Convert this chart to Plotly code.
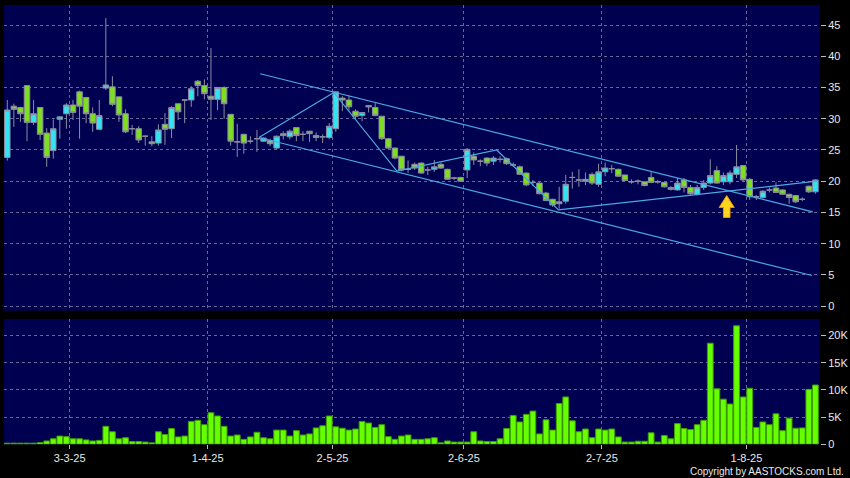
import plotly.graph_objects as go

# ---------------- data ----------------
OPEN = [23.8, 32.0, 31.8, 35.3, 29.4, 31.8, 27.7, 24.9, 29.9, 30.8,
        32.2, 34.3, 33.4, 30.8, 28.3, 34.9, 35.1, 33.5, 30.8, 28.4,
        28.4, 27.2, 26.3, 26.1, 29.1, 28.4, 32.4, 33.0, 33.0, 36.0,
        35.3, 33.6, 33.1, 35.0, 30.7, 26.3, 27.5, 26.4, 26.8, 26.4,
        26.5, 25.3, 27.6, 27.1, 28.6, 27.5, 28.0, 27.0, 27.1, 27.0,
        28.4, 33.3, 33.0, 31.2, 30.5, 32.1, 31.8, 30.4, 26.8, 25.3,
        24.0, 21.9, 22.7, 22.9, 21.8, 21.9, 22.7, 21.9, 20.5, 20.6,
        21.8, 24.0, 23.2, 23.7, 23.2, 23.5, 23.6, 22.6, 22.3, 21.3,
        19.8, 19.7, 18.1, 17.1, 16.4, 16.8, 20.6, 20.2, 20.0, 21.1,
        19.5, 21.5, 22.0, 21.9, 21.0, 19.9, 20.0, 19.9, 20.6, 19.9,
        19.8, 19.0, 18.6, 20.2, 19.0, 17.9, 19.0, 19.7, 21.7, 19.9,
        19.9, 21.1, 22.5, 20.3, 17.5, 17.4, 18.6, 18.9, 18.6, 17.9,
        17.7, 17.1, 19.2, 18.3]
HIGH = [33.0, 32.4, 31.9, 35.3, 33.0, 31.8, 28.5, 29.9, 30.3, 32.5,
        33.0, 34.5, 33.4, 31.8, 33.0, 46.1, 36.8, 33.5, 31.5, 29.0,
        28.8, 27.3, 27.2, 29.1, 30.9, 32.0, 32.4, 33.0, 35.2, 36.2,
        36.3, 41.3, 35.0, 35.2, 30.7, 29.2, 27.6, 27.2, 28.2, 27.0,
        26.8, 27.3, 28.0, 28.3, 28.6, 28.0, 28.0, 27.8, 27.5, 29.3,
        34.4, 33.6, 33.7, 31.5, 31.0, 32.1, 32.5, 30.4, 26.9, 25.4,
        24.0, 23.3, 23.0, 23.0, 22.3, 23.4, 23.0, 22.0, 20.7, 20.7,
        25.3, 24.6, 23.5, 23.8, 24.0, 24.0, 23.8, 23.0, 22.5, 21.4,
        20.2, 19.8, 18.3, 17.2, 19.1, 21.0, 21.5, 21.9, 21.4, 21.4,
        22.8, 23.0, 22.6, 22.0, 21.0, 20.3, 20.3, 20.0, 21.5, 20.2,
        19.9, 19.2, 20.5, 20.5, 19.4, 19.4, 20.2, 23.5, 22.4, 21.4,
        21.7, 25.8, 22.5, 20.5, 17.8, 18.6, 19.0, 19.8, 18.7, 18.0,
        17.8, 17.4, 19.3, 20.3]
LOW = [23.3, 28.7, 29.5, 26.4, 29.0, 26.6, 22.3, 23.6, 26.8, 28.4,
       29.8, 26.8, 29.3, 27.9, 28.2, 34.6, 32.0, 29.5, 27.7, 27.4,
       26.1, 25.7, 25.6, 25.7, 25.8, 26.9, 29.8, 29.3, 31.9, 33.6,
       33.1, 29.8, 31.4, 30.0, 25.7, 23.9, 24.4, 26.0, 24.7, 26.3,
       25.6, 25.1, 26.7, 26.7, 26.4, 26.4, 26.3, 26.4, 26.1, 26.7,
       27.9, 31.2, 31.3, 29.9, 29.6, 31.0, 30.4, 26.6, 25.2, 23.5,
       21.6, 21.3, 21.8, 21.2, 21.0, 21.5, 22.0, 20.2, 20.2, 19.9,
       20.5, 22.6, 22.4, 22.4, 22.6, 23.0, 22.6, 22.3, 21.0, 19.2,
       19.3, 17.9, 16.8, 15.9, 15.6, 16.4, 18.8, 19.1, 19.4, 19.4,
       19.1, 20.8, 21.3, 20.7, 20.0, 19.6, 19.5, 19.2, 19.7, 19.6,
       19.0, 18.5, 18.5, 18.2, 17.8, 17.7, 18.6, 19.5, 19.6, 19.4,
       19.5, 20.5, 19.9, 17.0, 17.0, 17.2, 18.2, 18.1, 17.8, 16.4,
       16.5, 16.8, 18.1, 18.0]
CLOSE = [31.4, 31.5, 30.8, 29.4, 30.8, 27.5, 23.8, 28.4, 30.3, 32.2,
         31.0, 32.0, 30.8, 29.3, 30.5, 35.4, 32.3, 30.6, 27.9, 28.4,
         26.6, 27.2, 26.0, 28.2, 28.3, 31.8, 31.1, 33.0, 34.8, 35.3,
         34.0, 33.1, 35.0, 32.4, 26.4, 26.3, 26.1, 26.4, 26.8, 26.9,
         26.0, 27.2, 27.3, 28.0, 27.3, 27.5, 27.6, 27.3, 27.1, 28.8,
         34.3, 33.0, 31.9, 30.4, 31.0, 31.9, 30.5, 26.8, 25.3, 23.7,
         21.8, 21.9, 22.1, 21.3, 21.8, 22.3, 22.1, 20.3, 20.5, 20.0,
         25.1, 23.4, 23.2, 22.9, 23.7, 23.5, 22.8, 22.6, 21.1, 19.4,
         19.8, 18.0, 16.9, 16.2, 16.7, 19.5, 20.6, 20.2, 20.3, 19.7,
         21.5, 22.1, 22.0, 20.8, 20.1, 19.9, 20.0, 19.3, 19.8, 19.9,
         19.1, 18.7, 19.7, 19.0, 18.0, 19.0, 19.7, 20.9, 19.7, 20.9,
         21.3, 22.3, 20.2, 17.5, 17.5, 18.4, 18.6, 18.2, 17.9, 17.4,
         16.7, 17.1, 18.3, 20.2]
VOLUME = [200, 200, 200, 200, 200, 300, 600, 1000, 1500, 1400,
          1000, 1000, 800, 600, 700, 3300, 2300, 1000, 1200, 500,
          500, 400, 250, 2300, 1800, 2900, 1350, 1500, 4200, 4400,
          3600, 5800, 5200, 3300, 1500, 1700, 900, 1350, 2200, 1200,
          1000, 2600, 2600, 1500, 2500, 1700, 1900, 3000, 3400, 5200,
          3200, 2950, 2600, 2800, 4200, 3900, 3100, 3600, 1400, 900,
          1500, 1700, 900, 900, 1000, 1200, 250, 600, 400, 400,
          400, 2300, 600, 500, 500, 1000, 2900, 5300, 4100, 5500,
          6100, 1900, 4500, 2600, 7500, 8700, 4300, 2300, 2800, 1200,
          2800, 2600, 2800, 1350, 400, 400, 550, 550, 2100, 400,
          1600, 1000, 3800, 2900, 2700, 3600, 4400, 18600, 10200, 8300,
          7400, 21800, 8700, 10300, 3100, 4100, 3600, 5600, 2500, 4800,
          2950, 3000, 10100, 10900]

# month boundary ticks (slot index of first trading day minus half a slot)
MONTH_TICKS = [9.5, 30.5, 49.5, 69.5, 90.5, 112.5]
MONTH_LABELS = ["3-3-25", "1-4-25", "2-5-25", "2-6-25", "2-7-25", "1-8-25"]
PRICE_TICKS = [0, 5, 10, 15, 20, 25, 30, 35, 40, 45]
VOL_TICKS = [0, 5000, 10000, 15000, 20000]
VOL_LABELS = ["0", "5K", "10K", "15K", "20K"]

# drawn trend lines (index, price)
UPPER_X = [38.5, 122.6]
UPPER_Y = [37.2, 15.1]
LOWER_X = [38.3, 122.5]
LOWER_Y = [27.0, 4.9]
ZIGZAG_X = [38.3, 49.7, 59.3, 74.5, 83.9, 123.2]
ZIGZAG_Y = [27.0, 34.2, 21.6, 25.0, 15.4, 20.0]

# arrow marker (index, price)
ARROW_X = 109.5
ARROW_TIP = 17.7
ARROW_NECK = 15.8
ARROW_BASE = 14.2
ARROW_HEAD_HALF = 1.15
ARROW_SHAFT_HALF = 0.5

idx = list(range(len(OPEN)))

BG = "#000050"
GRID = "#67679a"
LINE = "#4aa9e2"
TXT = "#e8e8e8"

W = 850
H = 485          # figure height
VS = 485 / 478   # vertical placement factor


def ydom(top_px, bottom_px):
    return [1 - bottom_px * VS / H, 1 - top_px * VS / H]


fig = go.Figure()

fig.add_trace(go.Candlestick(
    x=idx, open=OPEN, high=HIGH, low=LOW, close=CLOSE,
    increasing=dict(fillcolor="#33e3f2", line=dict(color="#8c8ca0", width=1)),
    decreasing=dict(fillcolor="#7ede22", line=dict(color="#8c8ca0", width=1)),
    whiskerwidth=0, xaxis="x", yaxis="y", showlegend=False, hoverinfo="skip"))

for xs, ys in [(UPPER_X, UPPER_Y), (LOWER_X, LOWER_Y), (ZIGZAG_X, ZIGZAG_Y)]:
    fig.add_trace(go.Scatter(x=xs, y=ys, mode="lines",
                             line=dict(color=LINE, width=1.2),
                             xaxis="x", yaxis="y", showlegend=False, hoverinfo="skip"))

# arrow
ax = [ARROW_X, ARROW_X + ARROW_HEAD_HALF, ARROW_X + ARROW_SHAFT_HALF, ARROW_X + ARROW_SHAFT_HALF,
      ARROW_X - ARROW_SHAFT_HALF, ARROW_X - ARROW_SHAFT_HALF, ARROW_X - ARROW_HEAD_HALF, ARROW_X]
ay = [ARROW_TIP, ARROW_NECK, ARROW_NECK, ARROW_BASE, ARROW_BASE, ARROW_NECK, ARROW_NECK, ARROW_TIP]
fig.add_trace(go.Scatter(x=ax, y=ay, mode="lines", fill="toself", fillcolor="#ffd51f",
                         line=dict(color="#f09a00", width=1),
                         xaxis="x", yaxis="y", showlegend=False, hoverinfo="skip"))

fig.add_trace(go.Bar(x=idx, y=VOLUME, marker=dict(color="#66ff00", line=dict(color="#3e9e00", width=1)),
                     xaxis="x2", yaxis="y2", showlegend=False, hoverinfo="skip"))

XDOM = [4 / W, 820 / W]
axis_common = dict(showgrid=True, gridcolor=GRID, griddash="3px,3px", gridwidth=1,
                   zeroline=False, showline=False)

fig.update_layout(
    width=W, height=H,
    margin=dict(l=0, r=0, t=0, b=0),
    paper_bgcolor="#000000", plot_bgcolor=BG,
    boxgap=0.16, boxgroupgap=0, bargap=0.12,
    font=dict(family="Liberation Sans, Arial, sans-serif", color=TXT, size=11),
    xaxis=dict(domain=XDOM, range=[-0.5, 123.7], anchor="y",
               tickvals=MONTH_TICKS, showticklabels=False, ticks="",
               rangeslider=dict(visible=False), **axis_common),
    yaxis=dict(domain=ydom(5, 310), range=[-0.72, 48.2], anchor="x",
               side="right", tickvals=PRICE_TICKS, ticks="outside", ticklen=5,
               tickcolor="#bbbbbb", tickfont=dict(size=11, color=TXT), **axis_common),
    xaxis2=dict(domain=XDOM, range=[-0.5, 123.7], anchor="y2", matches="x",
                tickvals=MONTH_TICKS, ticktext=MONTH_LABELS, ticks="outside", ticklen=4,
                tickcolor="#bbbbbb", tickfont=dict(size=11, color=TXT), **axis_common),
    yaxis2=dict(domain=ydom(318.3, 443.3), range=[0, 23060], anchor="x2",
                side="right", tickvals=VOL_TICKS, ticktext=VOL_LABELS, ticks="outside",
                ticklen=5, tickcolor="#bbbbbb", tickfont=dict(size=11, color=TXT),
                **axis_common),
    annotations=[dict(text="Copyright by AASTOCKS.com Ltd.", x=846 / W, y=1 - 471 * VS / H,
                      xref="paper", yref="paper", xanchor="right", yanchor="middle",
                      showarrow=False, font=dict(size=10, color=TXT,
                                                 family="Liberation Sans, Arial, sans-serif"))],
)

fig.write_html(
    "out.html",
    config={"displayModeBar": False, "responsive": False},
    post_script=("document.documentElement.style.margin='0';"
                 "document.documentElement.style.overflow='hidden';"
                 "document.body.style.margin='0';"
                 "document.body.style.overflow='hidden';"
                 "document.body.style.background='#000';"),
)
